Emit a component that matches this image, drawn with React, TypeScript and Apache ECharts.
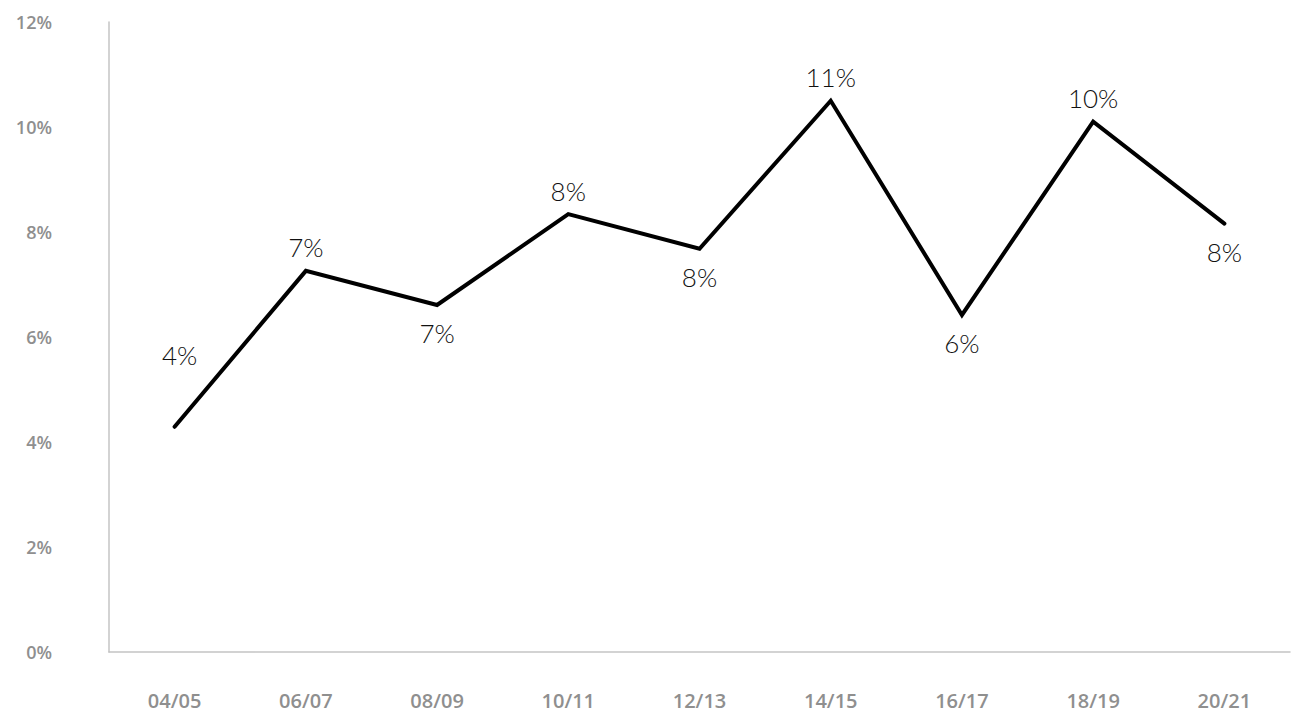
import React, { useEffect, useRef } from "react";
import * as echarts from "echarts";

const categories = ["04/05", "06/07", "08/09", "10/11", "12/13", "14/15", "16/17", "18/19", "20/21"];
const values = [4.29, 7.26, 6.61, 8.34, 7.68, 10.5, 6.42, 10.1, 8.16];
const yTicks = [0, 2, 4, 6, 8, 10, 12];

export default function App() {
  const ref = useRef<HTMLDivElement>(null);
  useEffect(() => {
    document.body.style.margin = "0";
    if (!ref.current) return;
    const chart = echarts.init(ref.current, null, { renderer: "svg" });
    const placements = ["top", "top", "bottom", "top", "bottom", "top", "bottom", "top", "bottom"];
    const data = values.map((v, i) => ({
      value: v,
      label: {
        position: placements[i],
        distance: i === 0 ? 58 : placements[i] === "top" ? 10 : 15,
        offset: i === 0 ? [5, 0] : [0, 0],
      },
    }));
    chart.setOption({
      animation: false,
      grid: { left: 109, right: 15, top: 22, bottom: 62, containLabel: false },
      xAxis: {
        type: "category",
        data: categories,
        boundaryGap: true,
        axisLine: { show: true, lineStyle: { color: "#c4c4c4", width: 1.5 } },
        axisTick: { show: false },
        axisLabel: {
          margin: 38,
          color: "#8f8f8f",
          fontSize: 20,
          fontWeight: 600,
          fontFamily: "Open Sans",
        },
        splitLine: { show: false },
      },
      yAxis: {
        type: "value",
        min: yTicks[0],
        max: yTicks[yTicks.length - 1],
        interval: 2,
        axisLine: { show: true, lineStyle: { color: "#c4c4c4", width: 1.5 } },
        axisTick: { show: false },
        splitLine: { show: false },
        axisLabel: {
          margin: 57,
          color: "#8f8f8f",
          fontSize: 18,
          fontWeight: 600,
          fontFamily: "Open Sans",
          formatter: (v: number) => `${v}%`,
        },
      },
      series: [
        {
          type: "line",
          data,
          symbol: "circle",
          symbolSize: 1,
          showSymbol: true,
          itemStyle: { color: "rgba(0,0,0,0)" },
          lineStyle: { color: "#000000", width: 4, cap: "round", join: "miter" },
          label: {
            show: true,
            color: "#111111",
            fontSize: 26,
            fontWeight: 300,
            fontFamily: "Lato",
            formatter: (p: any) => `${Math.round(p.value)}%`,
          },
        },
      ],
    });
    return () => chart.dispose();
  }, []);
  return <div ref={ref} style={{ width: 1305, height: 714 }} />;
}
